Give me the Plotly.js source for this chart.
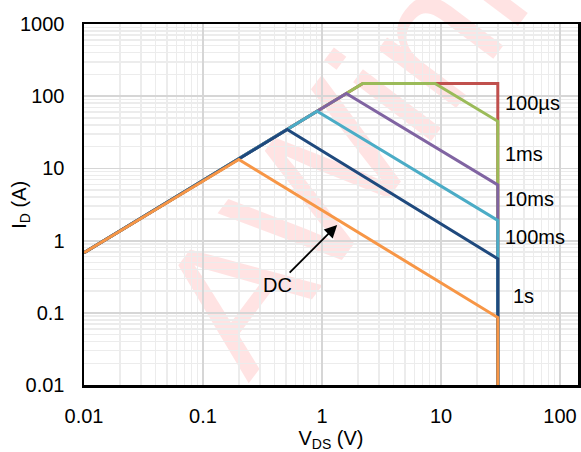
<!DOCTYPE html>
<html><head><meta charset="utf-8">
<script src="https://cdn.plot.ly/plotly-3.0.1.min.js"></script>
<style>html,body{margin:0;padding:0;background:#fff}#chart{width:581px;height:452px}</style>
</head><body><div id="chart"></div>
<script>
// Safe Operating Area data (V_DS in volts, I_D in amps)
const seriesNames  = ['100µs', '1ms', '10ms', '100ms', '1s', 'DC'];
const seriesColors = ['#C0504D', '#9BBB59', '#8064A2', '#4BACC6', '#1F497D', '#F79646'];

const x100us = [0.01, 2.2, 30, 30];
const y100us = [0.68, 150, 150, 0.01];
const x1ms   = [0.01, 2.2, 8.9, 30, 30];
const y1ms   = [0.68, 150, 150, 45, 0.01];
const x10ms  = [0.01, 1.6, 30, 30];
const y10ms  = [0.68, 109, 5.9, 0.01];
const x100ms = [0.01, 0.91, 30, 30];
const y100ms = [0.68, 62, 1.9, 0.01];
const x1s    = [0.01, 0.51, 30, 30];
const y1s    = [0.68, 34.5, 0.56, 0.01];
const xDC    = [0.01, 0.2, 30, 30];
const yDC    = [0.68, 13.3, 0.086, 0.01];

const labelText = ['100µs', '1ms', '10ms', '100ms', '1s'];
const labelX    = [33, 33, 33, 33, 38.7];
const labelY    = [80.5, 15.8, 3.77, 1.12, 0.171];

const dcArrowX = 1.34;
const dcArrowY = 1.64;

const xTickVals = [0.01, 0.1, 1, 10, 100];
const xTickText = ['0.01', '0.1', '1', '10', '100'];
const yTickVals = [0.01, 0.1, 1, 10, 100, 1000];
const yTickText = ['0.01', '0.1', '1', '10', '100', '1000'];

const xs = [x100us, x1ms, x10ms, x100ms, x1s, xDC];
const ys = [y100us, y1ms, y10ms, y100ms, y1s, yDC];

const FONT = 'Liberation Sans, Arial, sans-serif';
const FS = 20;

const traces = seriesNames.map((n, i) => ({
  type: 'scatter', mode: 'lines', name: n,
  x: xs[i], y: ys[i],
  line: {color: seriesColors[i], width: 3},
  hoverinfo: 'skip'
}));

const annotations = labelText.map((t, i) => ({
  x: Math.log10(labelX[i]), y: Math.log10(labelY[i]),
  xref: 'x', yref: 'y', text: t, showarrow: false,
  xanchor: 'left', yanchor: 'middle',
  font: {family: FONT, size: FS, color: '#000'}
}));
annotations.push({
  x: Math.log10(dcArrowX), y: Math.log10(dcArrowY), xref: 'x', yref: 'y',
  text: 'DC', showarrow: true, ax: -60, ay: 60,
  arrowhead: 2, arrowsize: 1.4, arrowwidth: 1.8, arrowcolor: '#000',
  font: {family: FONT, size: FS, color: '#000'}
});
// y-axis title
annotations.push({
  x: -0.129, y: 0.5, xref: 'paper', yref: 'paper',
  text: 'I<sub>D</sub> (A)', textangle: -90, showarrow: false,
  xanchor: 'center', yanchor: 'middle',
  font: {family: FONT, size: FS, color: '#000'}
});

const axisCommon = {
  type: 'log', tickmode: 'array',
  showline: true, linecolor: '#000', linewidth: 2.5, mirror: true,
  showgrid: true, gridcolor: '#d6d6d6', gridwidth: 1.8,
  minor: {dtick: 'D1', showgrid: true, gridcolor: '#ececec', gridwidth: 1.5, ticks: ''},
  ticks: '', zeroline: false,
  tickfont: {family: FONT, size: FS, color: '#000'}
};

const layout = {
  width: 581, height: 452,
  margin: {l: 84, r: 3, t: 24, b: 67},
  paper_bgcolor: '#fff', plot_bgcolor: '#fff',
  showlegend: false, hovermode: false,
  font: {family: FONT, size: FS, color: '#000'},
  xaxis: Object.assign({}, axisCommon, {
    range: [-2, 2.151], tickvals: xTickVals, ticktext: xTickText,
    ticklabelstandoff: 11,
    title: {text: 'V<sub>DS</sub> (V)', standoff: 2, font: {family: FONT, size: FS, color: '#000'}}
  }),
  yaxis: Object.assign({}, axisCommon, {
    range: [-2, 3], tickvals: yTickVals, ticktext: yTickText,
    ticklabelstandoff: 13
  }),
  annotations: annotations,
  shapes: [{
    type: 'rect', xref: 'paper', yref: 'paper',
    x0: 0.539, x1: 0.555, y0: 0.764, y1: 0.776,
    line: {width: 0}, fillcolor: 'rgba(0,0,0,0)', layer: 'between',
    label: {text: 'AWinic', textangle: -53, textposition: 'middle center',
            font: {family: FONT, size: 185, color: 'rgba(255,40,40,0.13)'}}
  }]
};

Plotly.newPlot('chart', traces, layout, {staticPlot: true, displayModeBar: false});
</script>
</body></html>
